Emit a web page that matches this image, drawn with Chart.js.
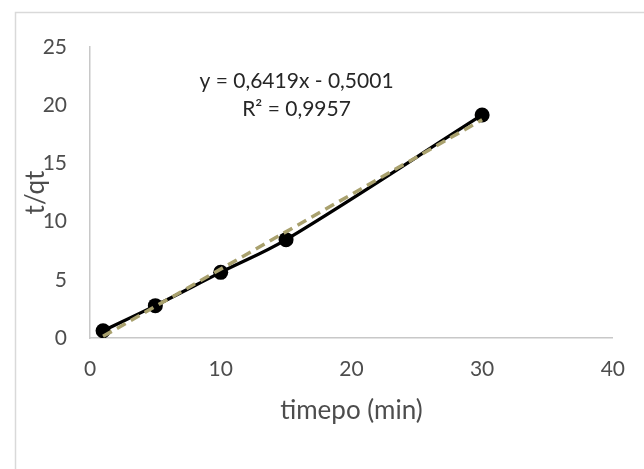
<!DOCTYPE html>
<html>
<head>
<meta charset="utf-8">
<script src="https://cdn.jsdelivr.net/npm/chart.js@4.4.1/dist/chart.umd.min.js"></script>
<style>
  html, body { margin: 0; padding: 0; background: #fff; overflow: hidden; }
  #wrap { width: 644px; height: 469px; position: relative; }
</style>
</head>
<body>
<div id="wrap"><canvas id="cineticaChart" width="644" height="469"></canvas></div>
<script>
// Dados do ensaio: tempo (min) e t/qt
const tempos = [1, 5, 10, 15, 30];
const tqt = [0.62, 2.78, 5.64, 8.45, 19.16];

// Marcas dos eixos
const xTicks = [0, 10, 20, 30, 40];
const yTicks = [0, 5, 10, 15, 20, 25];

// Linha de tendência linear (coeficientes do ajuste)
const inclinacao = 0.6419;
const intercepto = -0.5001;
const r2 = 0.9957;

function fmt(v, casas) {
  return v.toFixed(casas).replace(".", ",");
}

// Borda cinza da área do gráfico, título dos eixos e equação
const extras = {
  id: "extras",
  beforeDraw(chart) {
    const c = chart.ctx;
    c.save();
    c.fillStyle = "#fff";
    c.fillRect(0, 0, chart.width, chart.height);
    c.strokeStyle = "#d9d9d9";
    c.lineWidth = 1.5;
    c.strokeRect(15.5, 12.5, 800, 800);
    c.restore();
  },
  afterDraw(chart) {
    const c = chart.ctx;
    const area = chart.chartArea;
    const sx = chart.scales.x;
    const sy = chart.scales.y;
    c.save();
    c.fillStyle = "#4d4d4d";
    c.font = "26px Lato";
    c.textAlign = "center";
    c.textBaseline = "alphabetic";
    c.fillText("timepo (min)", (area.left + area.right) / 2, 419);

    c.translate(44, (area.top + area.bottom) / 2);
    c.rotate(-Math.PI / 2);
    c.fillText("t/qt", 0, 0);
    c.restore();

    c.save();
    c.fillStyle = "#262626";
    c.font = "21px Lato";
    c.textAlign = "center";
    c.textBaseline = "alphabetic";
    const ex = sx.getPixelForValue(15.8);
    const ey = sy.getPixelForValue(21.5);
    const sinal = intercepto < 0 ? " - " : " + ";
    c.fillText("y = " + fmt(inclinacao, 4) + "x" + sinal + fmt(Math.abs(intercepto), 4), ex, ey);
    c.fillText("R² = " + fmt(r2, 4), ex, ey + 28.5);
    c.restore();
  }
};

function createCineticaChart() {
  const ctx = document.getElementById("cineticaChart");
  if (!ctx) return;

  const pontos = tempos.map((t, i) => ({ x: t, y: tqt[i] }));
  const x0 = tempos[0];
  const x1 = tempos[tempos.length - 1];
  const tendencia = [
    { x: x0, y: inclinacao * x0 + intercepto },
    { x: x1, y: inclinacao * x1 + intercepto }
  ];

  new Chart(ctx, {
    type: "scatter",
    data: {
      datasets: [
        {
          label: "Linear",
          data: tendencia,
          showLine: true,
          borderColor: "#a9a16e",
          borderWidth: 3.5,
          borderDash: [10, 6],
          pointRadius: 0,
          fill: false
        },
        {
          label: "t/qt",
          data: pontos,
          showLine: true,
          tension: 0.35,
          borderColor: "#000",
          borderWidth: 3.3,
          pointRadius: 7.5,
          pointBackgroundColor: "#000",
          pointBorderWidth: 0,
          fill: false
        }
      ]
    },
    options: {
      responsive: false,
      animation: false,
      devicePixelRatio: 1,
      layout: { padding: { top: 47, right: 19, left: 0, bottom: 0 } },
      plugins: {
        legend: { display: false },
        tooltip: { enabled: false }
      },
      scales: {
        x: {
          type: "linear",
          min: xTicks[0],
          max: xTicks[xTicks.length - 1],
          grid: { display: false, drawTicks: false },
          border: { display: true, color: "#c8c8c8", width: 1.5 },
          ticks: {
            stepSize: xTicks[1] - xTicks[0],
            color: "#4d4d4d",
            font: { family: "Lato", size: 21 },
            padding: 19
          },
          afterFit(scale) { scale.height = 131; }
        },
        y: {
          type: "linear",
          min: yTicks[0],
          max: yTicks[yTicks.length - 1],
          grid: { display: false, drawTicks: false },
          border: { display: true, color: "#c8c8c8", width: 1.5 },
          ticks: {
            stepSize: yTicks[1] - yTicks[0],
            color: "#4d4d4d",
            font: { family: "Lato", size: 21 },
            padding: 23
          },
          afterFit(scale) { scale.width = 90; }
        }
      }
    },
    plugins: [extras]
  });
}

window.addEventListener("DOMContentLoaded", function() {
  createCineticaChart();
});
</script>
</body>
</html>
